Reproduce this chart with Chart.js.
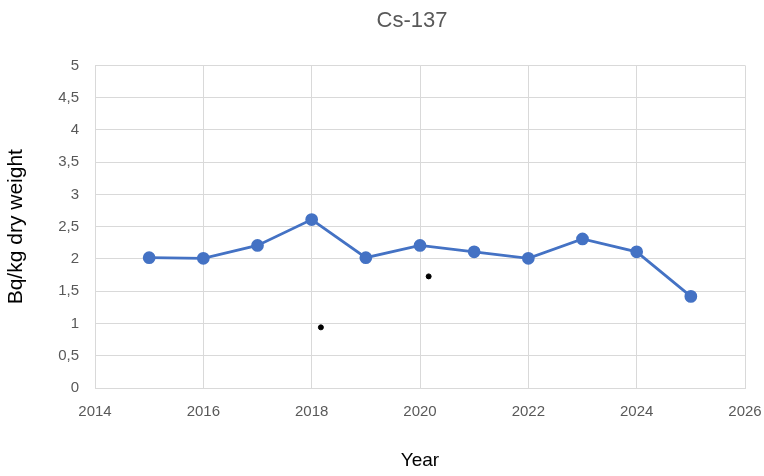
<!DOCTYPE html>
<html>
<head>
<meta charset="utf-8">
<script src="https://cdn.jsdelivr.net/npm/chart.js@4/dist/chart.umd.min.js"></script>
<style>
  html, body { margin: 0; padding: 0; background: #fff; }
  #wrap { width: 764px; height: 476px; }
</style>
</head>
<body>
<div id="wrap"><canvas id="chart" width="764" height="476"></canvas></div>
<script>
var years = [2015, 2016, 2017, 2018, 2019, 2020, 2021, 2022, 2023, 2024, 2025];
var values = [2.02, 2.01, 2.21, 2.61, 2.02, 2.21, 2.11, 2.01, 2.31, 2.11, 1.42];

// the two loose black dots
var extraX = [2018.17, 2020.16];
var extraY = [0.94, 1.73];

var font = "'Liberation Sans', Arial, sans-serif";

var data = {
    datasets: [{
        label: 'Cs-137',
        data: years.map(function (y, i) { return { x: y, y: values[i] }; }),
        borderColor: '#4472C4',
        backgroundColor: '#4472C4',
        borderWidth: 2.75,
        pointRadius: 5,
        pointHoverRadius: 5,
        tension: 0,
    }, {
        label: 'extra',
        data: extraX.map(function (x, i) { return { x: x, y: extraY[i] }; }),
        showLine: false,
        borderColor: '#000',
        backgroundColor: '#000',
        pointRadius: 2.5,
    }]
};

// centre the title over the plot area, as in the original
var titleShift = {
    id: 'titleShift',
    afterLayout: function (chart) {
        var a = chart.chartArea;
        chart.titleBlock.left = a.left - 16;
        chart.titleBlock.right = a.right;
    }
};

var config = {
    type: 'line',
    data: data,
    plugins: [titleShift],
    options: {
        responsive: false,
        animation: false,
        layout: { padding: { left: 0, right: 19, top: 0, bottom: 0 } },
        plugins: {
            legend: { display: false },
            tooltip: { enabled: false },
            title: {
                display: true,
                text: 'Cs-137',
                color: '#595959',
                font: { family: font, size: 22, weight: 'normal' },
                padding: { top: 8, bottom: 31 },
            },
        },
        scales: {
            x: {
                type: 'linear',
                min: 2014,
                max: 2026,
                ticks: {
                    stepSize: 2,
                    color: '#595959',
                    font: { family: font, size: 15 },
                    padding: 15,
                    callback: function (v) { return String(v); },
                },
                grid: { color: '#d9d9d9', drawTicks: false },
                border: { color: '#d9d9d9' },
                title: {
                    display: true,
                    text: 'Year',
                    color: '#000',
                    font: { family: font, size: 19 },
                    padding: { top: 24 },
                },
                afterFit: function (s) {
                    s.height = 88;
                    s.paddingLeft = 0;
                    s.paddingRight = 0;
                },
            },
            y: {
                min: 0,
                max: 5,
                ticks: {
                    stepSize: 0.5,
                    color: '#595959',
                    font: { family: font, size: 15 },
                    padding: 16,
                    callback: function (v) { return String(v).replace('.', ','); },
                },
                grid: { color: '#d9d9d9', drawTicks: false },
                border: { color: '#d9d9d9' },
                title: {
                    display: true,
                    text: 'Bq/kg dry weight',
                    color: '#000',
                    font: { family: font, size: 21 },
                    padding: { bottom: 3 },
                },
                afterFit: function (s) { s.width = 95; },
            },
        },
    },
};

var chart = new Chart(document.getElementById('chart'), config);
</script>
</body>
</html>
